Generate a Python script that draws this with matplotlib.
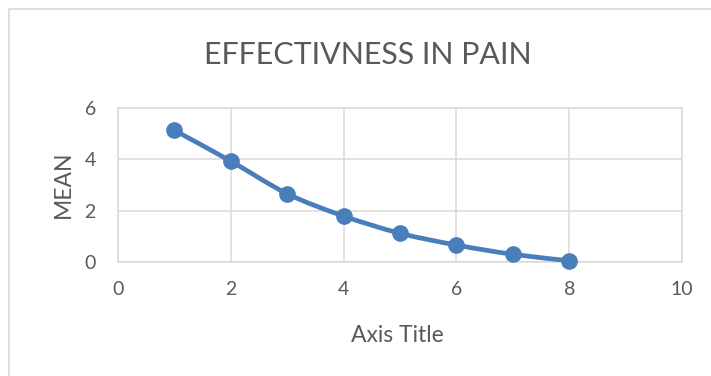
import numpy as np
import matplotlib
matplotlib.use("Agg")
import matplotlib.pyplot as plt
from matplotlib.path import Path
from matplotlib.patches import PathPatch, Rectangle

# Data
dose = [1, 2, 3, 4, 5, 6, 7, 8]
mean_score = [5.13, 3.93, 2.66, 1.79, 1.12, 0.66, 0.30, 0.05]
x_ticks = [0, 2, 4, 6, 8, 10]
y_ticks = [0, 2, 4, 6]
title = "EFFECTIVNESS IN PAIN"
x_label = "Axis Title"
y_label = "MEAN"

W, H = 711, 376
FONT = "Lato"
TEXT = "#595959"
GRID = "#d9d9d9"
BLUE = "#4a7ebb"

plt.rcParams["font.family"] = [FONT, "DejaVu Sans"]

fig = plt.figure(figsize=(W / 100, H / 100), dpi=100)
fig.patch.set_facecolor("white")

def px(x, y):
    return x / W, 1 - y / H

# plot area in pixels: left 118, right 682, top 108, bottom 262
l, t = px(118, 108)
r, b = px(682, 262)
ax = fig.add_axes([l, b, r - l, t - b])
ax.set_xlim(0, 10)
ax.set_ylim(0, 6)
ax.set_xticks(x_ticks)
ax.set_yticks(y_ticks)
ax.set_xticklabels([str(v) for v in x_ticks])
ax.set_yticklabels([str(v) for v in y_ticks])
ax.tick_params(length=0, colors=TEXT, labelsize=14)
ax.tick_params(axis="x", pad=14)
ax.tick_params(axis="y", pad=16)
ax.grid(True, color=GRID, linewidth=1.1)
ax.set_axisbelow(True)
for s in ax.spines.values():
    s.set_color(GRID)
    s.set_linewidth(1.1)

# smoothed connecting line (Catmull-Rom segments as cubic Beziers)
pts = np.column_stack([dose, mean_score]).astype(float)
ext = np.vstack([pts[0], pts, pts[-1]])
verts = [tuple(pts[0])]
codes = [Path.MOVETO]
for i in range(1, len(ext) - 2):
    p0, p1, p2, p3 = ext[i - 1], ext[i], ext[i + 1], ext[i + 2]
    c1 = p1 + (p2 - p0) / 6.0
    c2 = p2 - (p3 - p1) / 6.0
    verts += [tuple(c1), tuple(c2), tuple(p2)]
    codes += [Path.CURVE4] * 3
ax.add_patch(PathPatch(Path(verts, codes), facecolor="none", edgecolor=BLUE,
                       linewidth=3.4, capstyle="round", joinstyle="round",
                       zorder=3))
ax.plot(dose, mean_score, linestyle="none", marker="o", markersize=11,
        color=BLUE, zorder=4, clip_on=False)

# titles
tx, ty = px(367.5, 64.3)
fig.text(tx, ty, title, ha="center", va="baseline", fontsize=21.9,
         color=TEXT)
xx, xy = px(397, 341.7)
fig.text(xx, xy, x_label, ha="center", va="baseline", fontsize=16.5,
         color=TEXT)
yx, yy = px(70, 184.7)
fig.text(yx, yy, y_label, ha="center", va="baseline", rotation=90,
         rotation_mode="anchor", fontsize=16.5, color=TEXT)

# chart border
bx, by = px(9, 9)
fig.patches.append(Rectangle((bx, -0.1), 1.2, by + 0.1,
                             transform=fig.transFigure, fill=False,
                             edgecolor=GRID, linewidth=1.2))

fig.savefig("out.png", dpi=100)
